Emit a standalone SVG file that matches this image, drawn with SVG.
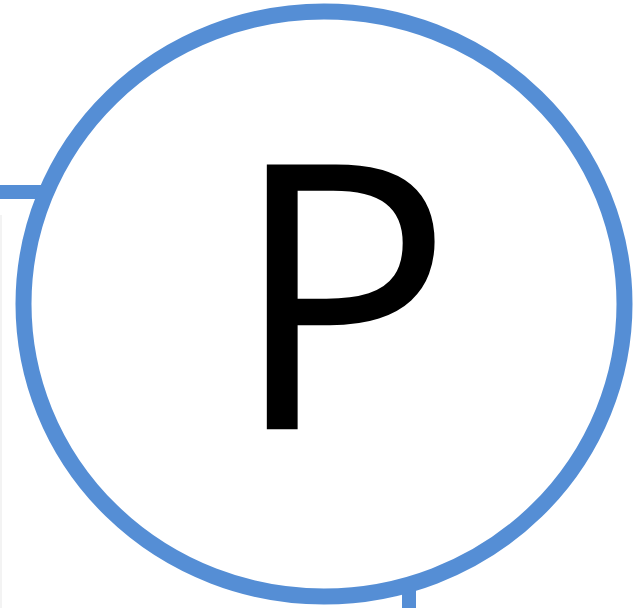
<svg xmlns="http://www.w3.org/2000/svg" width="635" height="608" viewBox="0 0 635 608">
  <style>
    .conn { stroke: #558ED5; stroke-width: 14; fill: none; }
    .node-shape { fill: #FFFFFF; stroke: #558ED5; stroke-width: 16; }
    .node-label { font-family: "Open Sans", "Liberation Sans", sans-serif; font-size: 371px; fill: #000000; }
    .faint { stroke: #F3F3F3; stroke-width: 2; fill: none; }
  </style>
  <rect x="0" y="0" width="635" height="608" fill="#FFFFFF"/>
  <g id="connectors">
    <line class="faint" x1="1" y1="215" x2="1" y2="608"/>
    <line class="conn" x1="0" y1="192" x2="50" y2="192"/>
    <line class="conn" x1="409" y1="570" x2="409" y2="608"/>
  </g>
  <g id="node-P">
    <ellipse class="node-shape" cx="324" cy="304" rx="300.5" ry="292.5"/>
    <text class="node-label" x="230.6" y="429.3">P</text>
  </g>
</svg>
